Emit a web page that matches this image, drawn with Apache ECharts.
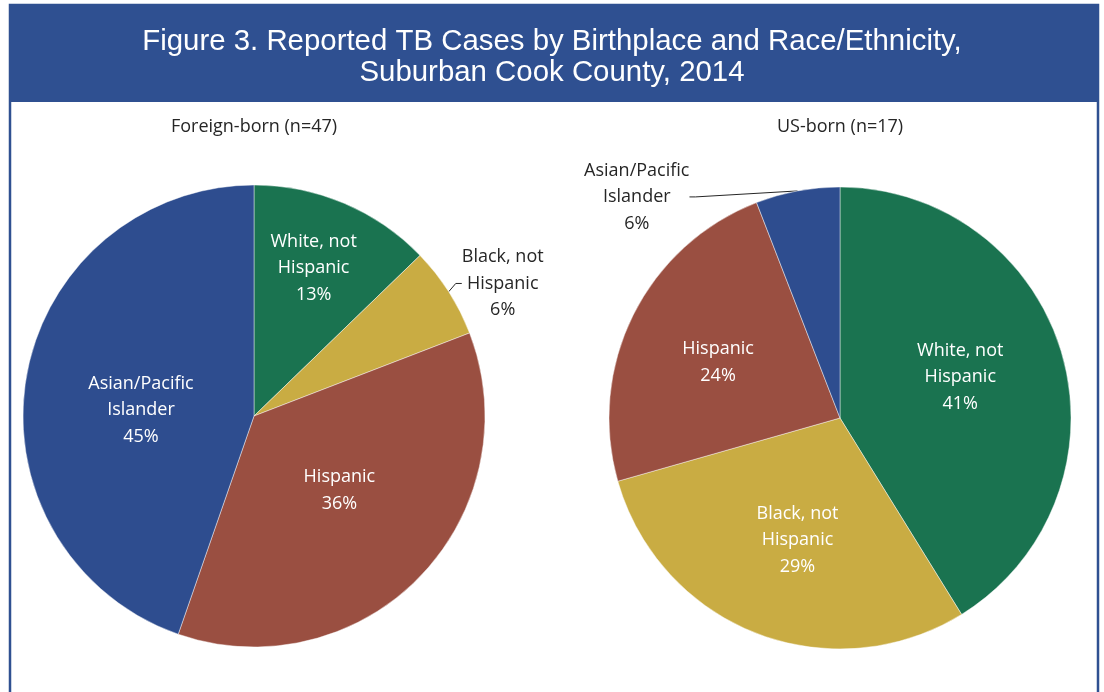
<!DOCTYPE html>
<html>
<head>
<meta charset="utf-8">
<title>Reported TB Cases by Birthplace and Race/Ethnicity</title>
<script src="https://cdn.jsdelivr.net/npm/echarts@6/dist/echarts.min.js"></script>
<style>
  html, body { margin: 0; padding: 0; background: #fff; }
  #chart { width: 1104px; height: 692px; }
</style>
</head>
<body>
<div id="chart"></div>
<script>
(function () {
    'use strict';

    // groups, in the clockwise order of the slices (starting at 12 o'clock)
    var categories = ['White, not Hispanic', 'Black, not Hispanic', 'Hispanic', 'Asian/Pacific Islander'];
    var labelNames = ['White, not\nHispanic', 'Black, not\nHispanic', 'Hispanic', 'Asian/Pacific\nIslander'];
    var foreignBornCases = [6, 3, 17, 21];   // n=47
    var usBornCases = [7, 5, 4, 1];          // n=17
    var panelTitles = ['Foreign-born (n=47)', 'US-born (n=17)'];

    var colors = ['#1a7350', '#c9ac43', '#9a4f41', '#2e4d8f'];
    var labelFont = '"Open Sans", Lato, sans-serif';
    var RADIUS = 231;

    // where each label sits: fraction of the radius, and turn (deg) off the slice middle
    var foreignPlacement = [
        { r: 0.69, turn: -1 },
        { r: 1.22, turn: 4.5, outside: true },
        { r: 0.49, turn: -3 },
        { r: 0.49, turn: -6.5 }
    ];
    var usPlacement = [
        { r: 0.55, turn: -3 },
        { r: 0.56, turn: -2 },
        { r: 0.58, turn: -2 },
        { r: 1.30, turn: -32, outside: true }
    ];

    function sum(list) {
        return list.reduce(function (a, b) { return a + b; }, 0);
    }

    function buildData(values, placement) {
        return values.map(function (v, i) {
            var item = {
                name: categories[i],
                value: v,
                itemStyle: { color: colors[i] }
            };
            if (placement[i].outside) {
                item.label = { position: 'outside', color: '#262626' };
                item.labelLine = { show: true, length: 12, length2: 6 };
            }
            return item;
        });
    }

    function placeLabels(values, centre, placement) {
        var total = sum(values);
        return function (params) {
            var idx = params.dataIndex;
            var before = 0;
            for (var i = 0; i < idx; i++) {
                before += values[i];
            }
            var angle = (before + values[idx] / 2) / total * 360 + placement[idx].turn;
            var rad = angle * Math.PI / 180;
            var d = placement[idx].r * RADIUS;
            return {
                x: centre[0] + d * Math.sin(rad),
                y: centre[1] - d * Math.cos(rad),
                align: 'center',
                verticalAlign: 'middle'
            };
        };
    }

    function pieSeries(name, values, centre, placement) {
        return {
            name: name,
            type: 'pie',
            center: centre,
            radius: RADIUS,
            startAngle: 90,
            clockwise: true,
            avoidLabelOverlap: false,
            percentPrecision: 0,
            silent: true,
            itemStyle: { borderColor: 'rgba(255,255,255,0.55)', borderWidth: 0.8 },
            label: {
                show: true,
                position: 'inside',
                color: '#ffffff',
                fontFamily: labelFont,
                fontSize: 18,
                lineHeight: 26.5,
                formatter: function (p) {
                    return labelNames[p.dataIndex] + '\n' + p.percent + '%';
                }
            },
            labelLine: { show: false, lineStyle: { color: '#262626', width: 1 } },
            labelLayout: placeLabels(values, centre, placement),
            data: buildData(values, placement)
        };
    }

    var foreignCentre = [254, 416];
    var usCentre = [840, 418];

    var chart = echarts.init(document.getElementById('chart'));

    chart.setOption({
        backgroundColor: '#ffffff',
        animation: false,
        title: {
            text: 'Figure 3. Reported TB Cases by Birthplace and Race/Ethnicity,\nSuburban Cook County, 2014',
            left: 'center',
            top: 26,
            padding: 0,
            textStyle: {
                color: '#ffffff',
                fontFamily: '"Liberation Sans", Arial, sans-serif',
                fontSize: 29.4,
                fontWeight: 'normal',
                lineHeight: 31
            }
        },
        graphic: [
            {
                type: 'rect',
                z: -10,
                shape: { x: 10, y: 5, width: 1088, height: 720 },
                style: { fill: 'none', stroke: '#2f5091', lineWidth: 2.5 }
            },
            {
                type: 'rect',
                z: -9,
                shape: { x: 9, y: 5, width: 1090, height: 97 },
                style: { fill: '#2f5091' }
            },
            {
                type: 'text',
                x: foreignCentre[0],
                y: 127,
                style: {
                    text: panelTitles[0],
                    align: 'center',
                    verticalAlign: 'middle',
                    fill: '#262626',
                    font: '18px ' + labelFont
                }
            },
            {
                type: 'text',
                x: usCentre[0],
                y: 127,
                style: {
                    text: panelTitles[1],
                    align: 'center',
                    verticalAlign: 'middle',
                    fill: '#262626',
                    font: '18px ' + labelFont
                }
            }
        ],
        series: [
            pieSeries('Foreign-born', foreignBornCases, foreignCentre, foreignPlacement),
            pieSeries('US-born', usBornCases, usCentre, usPlacement)
        ]
    });
})();
</script>
</body>
</html>
